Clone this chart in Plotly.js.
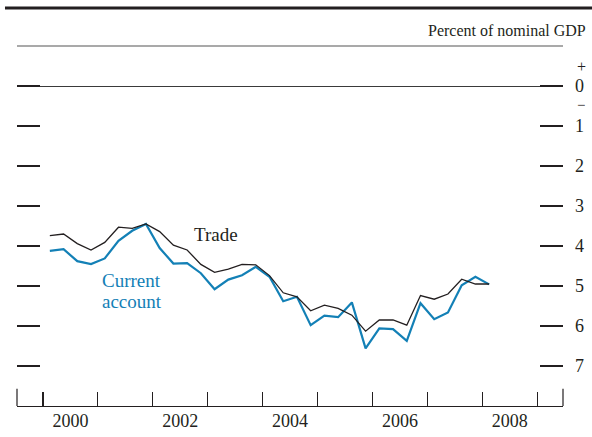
<!DOCTYPE html>
<html>
<head>
<meta charset="utf-8">
<script src="https://cdn.plot.ly/plotly-3.0.1.min.js"></script>
<style>
  html, body { margin:0; padding:0; background:#ffffff; }
  #myDiv { width:592px; height:437px; }
</style>
</head>
<body>
<div id="myDiv"></div>
<script>
// quarterly balances, percent of nominal GDP (deficits negative), 2000:Q1 - 2008:Q1
let first_year=2000;
let trade_vals=[-3.74,-3.70,-3.94,-4.10,-3.91,-3.53,-3.56,-3.45,
                -3.64,-3.98,-4.10,-4.46,-4.66,-4.58,-4.46,-4.47,
                -4.74,-5.17,-5.27,-5.62,-5.48,-5.56,-5.73,-6.13,
                -5.85,-5.85,-5.98,-5.24,-5.33,-5.20,-4.83,-4.95,-4.95];
let ca_vals=[-4.12,-4.08,-4.38,-4.45,-4.31,-3.87,-3.62,-3.45,
             -4.05,-4.44,-4.43,-4.68,-5.08,-4.84,-4.73,-4.52,
             -4.77,-5.38,-5.27,-5.98,-5.74,-5.78,-5.41,-6.56,
             -6.06,-6.08,-6.37,-5.43,-5.83,-5.66,-4.98,-4.77,-4.96];
let y_tickvals=[0,-1,-2,-3,-4,-5,-6,-7];
let y_ticktext=['0','1','2','3','4','5','6','7'];
let year_ticks=[2000,2001,2002,2003,2004,2005,2006,2007,2008,2009];
let year_labels=['2000','2002','2004','2006','2008'];

// quarter midpoints as decimal years
let qx=[];
for(let i=0;i<trade_vals.length;i++) {
  qx.push(first_year+Math.floor(i/4)+((i%4)+0.5)/4);
}
let label_pos=year_labels.map(function(s){ return parseInt(s)+0.5; });

let serif='"Liberation Serif", "Times New Roman", serif';
let ink='#231f20';
let blue='#1380b6';

let traceTrade = { x: qx, y: trade_vals, name:'Trade', showlegend:false,
                   mode:'lines', type:'scatter',
                   line:{color:ink, width:1.3} };
let traceCA = { x: qx, y: ca_vals, name:'Current account', showlegend:false,
                mode:'lines', type:'scatter',
                line:{color:blue, width:2.2} };
// empty trace so the year-label axis gets drawn
let traceLbl = { x: label_pos, y: [null,null,null,null,null], xaxis:'x2',
                 mode:'lines', showlegend:false, hoverinfo:'skip' };

let data=[traceCA, traceTrade, traceLbl];

let xr=[1999.527, 2009.47];

let layout = {
  width: 592,
  height: 437,
  paper_bgcolor:'#ffffff',
  plot_bgcolor:'#ffffff',
  margin: { l:17, r:29, t:46, b:31 },
  font: { family: serif, size:17, color:ink },
  xaxis: {
    range: xr,
    tickmode:'array',
    tickvals: year_ticks,
    showticklabels:false,
    ticks:'inside',
    ticklen:14,
    tickwidth:1.2,
    tickcolor:ink,
    showgrid:false,
    zeroline:false,
    showline:true,
    linecolor:ink,
    linewidth:1.3 },
  xaxis2: {
    overlaying:'x',
    anchor:'y',
    side:'bottom',
    range: xr,
    tickmode:'array',
    tickvals: label_pos,
    ticktext: year_labels,
    ticks:'',
    showgrid:false,
    zeroline:false,
    showline:false,
    ticklabelstandoff:2,
    tickfont:{ family:serif, size:18, color:ink } },
  yaxis: {
    range:[-8, 1],
    side:'right',
    tickmode:'array',
    tickvals: y_tickvals,
    ticktext: y_ticktext,
    ticks:'inside',
    ticklen:23,
    tickwidth:1.2,
    tickcolor:ink,
    mirror:'ticks',
    showline:false,
    showgrid:false,
    zeroline:true,
    zerolinecolor:'#3a3a3a',
    zerolinewidth:1,
    ticklabelstandoff:11,
    tickfont:{ family:serif, size:18, color:ink } },
  shapes: [
    // heavy rule on top
    { type:'line', xref:'paper', yref:'paper', x0:-0.022, x1:1.06, y0:1.1056, y1:1.1056,
      line:{color:ink, width:3} },
    // top frame line
    { type:'line', xref:'paper', yref:'paper', x0:0, x1:1, y0:1, y1:1,
      line:{color:'#555555', width:1.2} },
    // taller end ticks
    { type:'line', xref:'paper', yref:'paper', x0:0, x1:0, y0:0, y1:0.048,
      line:{color:ink, width:1.2} },
    { type:'line', xref:'paper', yref:'paper', x0:1, x1:1, y0:0, y1:0.048,
      line:{color:ink, width:1.2} }
  ],
  annotations: [
    { text:'Percent of nominal GDP', xref:'paper', yref:'paper', x:1.046, y:1.044,
      xanchor:'right', yanchor:'middle', showarrow:false,
      font:{family:serif, size:16, color:ink} },
    { text:'+', xref:'paper', yref:'y', x:1.033, y:0.5, xanchor:'center', yanchor:'middle',
      height:10, showarrow:false, font:{family:serif, size:16, color:ink} },
    { text:'\u2212', xref:'paper', yref:'y', x:1.033, y:-0.47, xanchor:'center', yanchor:'middle',
      height:10, showarrow:false, font:{family:serif, size:15, color:ink} },
    { text:'Trade', x:2003.15, y:-3.72, xanchor:'center', yanchor:'middle', showarrow:false,
      font:{family:serif, size:19, color:ink} },
    { text:'Current', x:2001.62, y:-4.86, xanchor:'center', yanchor:'middle',
      showarrow:false, font:{family:serif, size:19, color:blue} },
    { text:'account', x:2001.62, y:-5.38, xanchor:'center', yanchor:'middle',
      showarrow:false, font:{family:serif, size:19, color:blue} }
  ]
};

let config = {displayModeBar:false, staticPlot:true};

Plotly.newPlot('myDiv', data, layout, config);
</script>
</body>
</html>
